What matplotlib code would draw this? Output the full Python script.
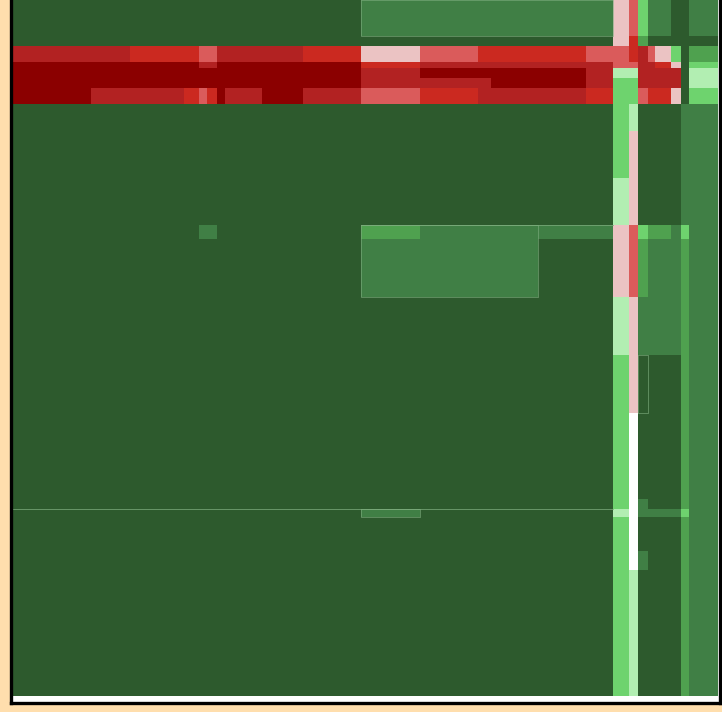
import numpy as np
import matplotlib
matplotlib.use("Agg")
import matplotlib.pyplot as plt
from matplotlib.colors import ListedColormap, BoundaryNorm

# column widths and row heights (category sizes)
col_widths = [79, 39, 54, 15, 8, 10, 8, 37, 41, 58, 59, 58, 13, 47, 48, 27,
              16, 9, 10, 7, 16, 10, 8, 29]
row_heights = [36, 10, 16, 6, 10, 10, 16, 27, 47, 47, 14, 58, 58, 58, 86,
               10, 8, 34, 19, 126]

# level codes: 0 dark green ... 5 white ... 10 dark red
levels = [
    [0,0,0,0,0,0,0,0,0,0, 1,1,1,1,1,1, 6,7,3,1,1,0,0,1],
    [0,0,0,0,0,0,0,0,0,0, 0,0,0,0,0,0, 6,8,2,0,0,0,0,0],
    [9,9,8,8,7,7,9,9,9,8, 6,7,8,8,8,7, 7,8,9,7,6,3,0,2],
    [10,10,10,10,9,9,10,10,10,10, 8,9,9,9,9,9, 7,7,9,9,8,6,0,3],
    [10,10,10,10,10,10,10,10,10,10, 9,10,10,10,10,9, 4,4,9,9,9,9,0,4],
    [10,10,10,10,10,10,10,10,10,10, 9,9,9,10,10,9, 3,3,9,9,9,9,0,4],
    [10,9,9,8,7,8,10,9,10,9, 7,8,9,9,9,8, 3,3,7,8,8,6,0,3],
    [0,0,0,0,0,0,0,0,0,0, 0,0,0,0,0,0, 3,4,0,0,0,0,1,1],
    [0,0,0,0,0,0,0,0,0,0, 0,0,0,0,0,0, 3,6,0,0,0,0,1,1],
    [0,0,0,0,0,0,0,0,0,0, 0,0,0,0,0,0, 4,6,0,0,0,0,1,1],
    [0,0,0,0,1,1,0,0,0,0, 2,1,1,1,1,1, 6,7,3,2,2,1,3,1],
    [0,0,0,0,0,0,0,0,0,0, 1,1,1,1,0,0, 6,7,2,1,1,1,2,1],
    [0,0,0,0,0,0,0,0,0,0, 0,0,0,0,0,0, 4,6,1,1,1,1,2,1],
    [0,0,0,0,0,0,0,0,0,0, 0,0,0,0,0,0, 3,6,0,0,0,0,2,1],
    [0,0,0,0,0,0,0,0,0,0, 0,0,0,0,0,0, 3,5,0,0,0,0,2,1],
    [0,0,0,0,0,0,0,0,0,0, 0,0,0,0,0,0, 3,5,1,0,0,0,2,1],
    [0,0,0,0,0,0,0,0,0,0, 1,0,0,0,0,0, 4,5,1,1,1,1,3,1],
    [0,0,0,0,0,0,0,0,0,0, 0,0,0,0,0,0, 3,5,0,0,0,0,2,1],
    [0,0,0,0,0,0,0,0,0,0, 0,0,0,0,0,0, 3,5,1,0,0,0,2,1],
    [0,0,0,0,0,0,0,0,0,0, 0,0,0,0,0,0, 3,4,0,0,0,0,2,1],
]

palette = ["#2D5A2D", "#407F45", "#4FA14F", "#6ED36E", "#B2EEB2", "#FFFFFF",
           "#EBC3C3", "#DA5B5B", "#CB2920", "#B22222", "#8B0000"]

# faint outline boxes (x0, y0, x1, y1) in column/row units
outlines = [(10, 0, 16, 1), (10, 10, 14, 12), (0, 16, 16, 16), (10, 16, 11, 17),
            (18, 13, 19, 14), (10, 10, 16, 10)]

W, H = 722, 712
fig = plt.figure(figsize=(W / 100, H / 100), dpi=100)
fig.patch.set_facecolor("#FFDEAD")

x_edges = 12 + np.concatenate([[0], np.cumsum(col_widths)])
y_edges = np.concatenate([[0], np.cumsum(row_heights)])

left_px, right_px, bottom_px, top_px = 11, 720, 703, -6
ax = fig.add_axes([left_px / W, 1 - bottom_px / H,
                   (right_px - left_px) / W, (bottom_px - top_px) / H])
ax.set_facecolor("white")

cmap = ListedColormap(palette)
norm = BoundaryNorm(np.arange(-0.5, len(palette)), cmap.N)
ax.pcolormesh(x_edges, y_edges, np.array(levels), cmap=cmap, norm=norm,
              shading="flat", antialiased=False, linewidth=0)

for (c0, r0, c1, r1) in outlines:
    xa, xb = x_edges[c0], x_edges[c1]
    ya, yb = y_edges[r0], y_edges[r1]
    ax.plot([xa, xb, xb, xa, xa], [ya, ya, yb, yb, ya], color="#7FAE7F",
            lw=0.6, alpha=0.7)

ax.set_xlim(left_px, right_px)
ax.set_ylim(bottom_px, top_px)
ax.set_xticks([])
ax.set_yticks([])
for side in ["left", "right", "bottom"]:
    ax.spines[side].set_linewidth(2.4)
    ax.spines[side].set_color("black")
ax.spines["top"].set_visible(False)

fig.savefig("out.png", dpi=100, facecolor=fig.get_facecolor())
